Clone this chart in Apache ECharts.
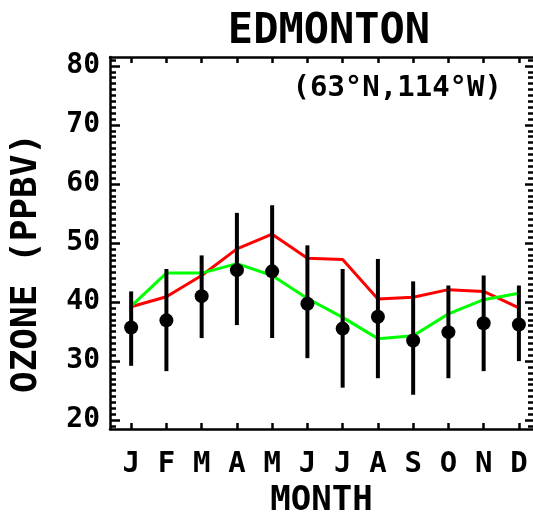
<!DOCTYPE html>
<html>
<head>
<meta charset="utf-8">
<script src="https://cdn.jsdelivr.net/npm/echarts@6/dist/echarts.min.js"></script>
<style>
html,body{margin:0;padding:0;background:#fff;}
#chart{width:533px;height:512px;}
</style>
</head>
<body>
<div id="chart"></div>
<script>
// ---- data ----
const months = [1, 2, 3, 4, 5, 6, 7, 8, 9, 10, 11, 12];
const monthLetters = ['J', 'F', 'M', 'A', 'M', 'J', 'J', 'A', 'S', 'O', 'N', 'D'];
const obsMean = [35.7, 36.9, 41.0, 45.4, 45.2, 39.7, 35.5, 37.5, 33.5, 34.9, 36.4, 36.2];
const obsHigh = [41.8, 45.6, 47.9, 55.1, 56.4, 49.6, 45.6, 47.3, 43.5, 42.8, 44.5, 42.8];
const obsLow  = [29.2, 28.3, 33.9, 36.1, 33.9, 30.5, 25.5, 27.1, 24.3, 27.1, 28.3, 30.0];
const redModel   = [39.2, 40.9, 44.5, 49.0, 51.5, 47.4, 47.2, 40.5, 40.8, 42.1, 41.8, 39.0];
const greenModel = [39.3, 44.9, 44.9, 46.5, 44.5, 40.6, 37.4, 33.8, 34.3, 38.0, 40.4, 41.5];
const yMajorTicks = [20, 30, 40, 50, 60, 70, 80];
const yMinorTicks = [19,21,22,23,24,25,26,27,28,29,31,32,33,34,35,36,37,38,39,41,42,43,44,45,46,47,48,49,
                     51,52,53,54,55,56,57,58,59,61,62,63,64,65,66,67,68,69,71,72,73,74,75,76,77,78,79,81];
const titleText = 'EDMONTON';
const locationText = '(63°N,114°W)';
const xTitle = 'MONTH';
const yTitle = 'OZONE (PPBV)';

const FONT = '"DejaVu Sans Mono", monospace';
const X_MIN = 0.4, X_MAX = 12.4, Y_MIN = 18.5, Y_MAX = 81.5;

const chart = echarts.init(document.getElementById('chart'), null, {renderer: 'canvas'});

function yAx(pos, ticks, len, showLine, showLabel) {
  return {
    type: 'value', position: pos, min: Y_MIN, max: Y_MAX,
    splitLine: {show: false},
    axisLine: {show: showLine, onZero: false, lineStyle: {color: '#000', width: 2.5}},
    axisTick: {show: true, inside: true, length: len, customValues: ticks, lineStyle: {color: '#000', width: 2.5}},
    axisLabel: {show: showLabel, customValues: yMajorTicks, margin: 10, color: '#000',
                fontFamily: FONT, fontWeight: 'bold', fontSize: 28}
  };
}

const option = {
  animation: false,
  backgroundColor: '#fff',
  title: [
    {text: titleText, left: 324, top: 6, textAlign: 'center',
     textStyle: {fontFamily: FONT, fontWeight: 'bold', fontSize: 42, color: '#000'}},
    {text: locationText, right: 26, top: 69,
     textStyle: {fontFamily: FONT, fontWeight: 'bold', fontSize: 29, color: '#000'}}
  ],
  graphic: [
    {type: 'text', x: 27, y: 263, rotation: Math.PI / 2,
     style: {text: yTitle, fill: '#000', font: 'bold 36px ' + FONT, align: 'center', verticalAlign: 'middle'}}
  ],
  grid: {left: 110, right: 0, top: 57, bottom: 83, containLabel: false, outerBoundsMode: 'none'},
  xAxis: [
    {type: 'value', position: 'bottom', min: X_MIN, max: X_MAX,
     splitLine: {show: false},
     axisLine: {show: true, onZero: false, lineStyle: {color: '#000', width: 2.5}},
     axisTick: {show: true, inside: true, length: 6, customValues: months, lineStyle: {color: '#000', width: 2.5}},
     axisLabel: {show: true, customValues: months, margin: 21, color: '#000',
                 fontFamily: FONT, fontWeight: 'bold', fontSize: 29,
                 formatter: v => monthLetters[Math.round(v) - 1] || ''},
     name: xTitle, nameLocation: 'middle', nameGap: 53,
     nameTextStyle: {color: '#000', fontFamily: FONT, fontWeight: 'bold', fontSize: 34}},
    {type: 'value', position: 'top', min: X_MIN, max: X_MAX,
     splitLine: {show: false},
     axisLine: {show: true, onZero: false, lineStyle: {color: '#000', width: 2.5}},
     axisTick: {show: true, inside: true, length: 6, customValues: months, lineStyle: {color: '#000', width: 2.5}},
     axisLabel: {show: false}}
  ],
  yAxis: [
    yAx('left', yMajorTicks, 10, true, true),
    yAx('left', yMinorTicks, 6, false, false),
    yAx('right', yMajorTicks, 8, false, false),
    yAx('right', yMinorTicks, 5, false, false)
  ],
  series: [
    {type: 'line', xAxisIndex: 0, yAxisIndex: 0, data: months.map((m, i) => [m, redModel[i]]),
     showSymbol: false, symbol: 'none', lineStyle: {color: '#ff0000', width: 3}, z: 2},
    {type: 'line', xAxisIndex: 0, yAxisIndex: 0, data: months.map((m, i) => [m, greenModel[i]]),
     showSymbol: false, symbol: 'none', lineStyle: {color: '#00ff00', width: 3}, z: 2},
    {type: 'custom', xAxisIndex: 0, yAxisIndex: 0, z: 3,
     data: months.map((m, i) => [m, obsLow[i], obsHigh[i]]),
     encode: {x: 0, y: [1, 2]},
     renderItem: function (params, api) {
       const p1 = api.coord([api.value(0), api.value(1)]);
       const p2 = api.coord([api.value(0), api.value(2)]);
       return {type: 'line', shape: {x1: p1[0], y1: p1[1], x2: p2[0], y2: p2[1]},
               style: {stroke: '#000', lineWidth: 4}};
     }},
    {type: 'scatter', xAxisIndex: 0, yAxisIndex: 0, z: 4,
     data: months.map((m, i) => [m, obsMean[i]]),
     symbol: 'circle', symbolSize: 14,
     itemStyle: {color: '#000', opacity: 1}}
  ]
};
chart.setOption(option);
</script>
</body>
</html>
